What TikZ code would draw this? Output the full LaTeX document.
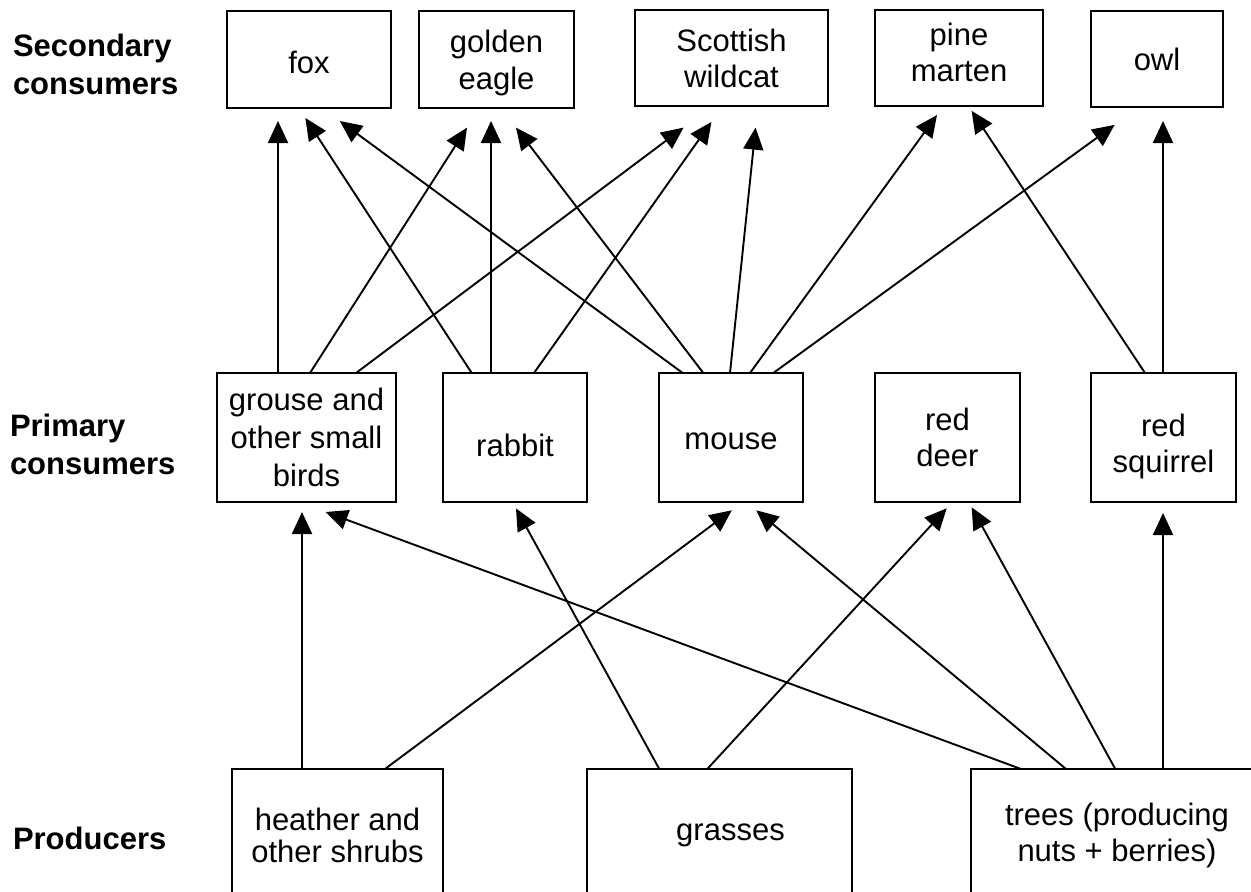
\documentclass[tikz,border=0pt]{standalone}
\usepackage{fontspec}
\setmainfont{Liberation Sans}
\usetikzlibrary{arrows.meta,calc}
\newcommand{\shiftedtext}[2]{\raisebox{#1}[\height][\depth]{\begin{tabular}{@{}c@{}}#2\end{tabular}}}
\begin{document}
\begin{tikzpicture}[x=1pt,y=-1pt,
  orgbox/.style={draw, line width=2pt, inner sep=0pt, outer sep=0pt, align=center,
    font=\fontsize{31}{36}\selectfont},
  lvl/.style={anchor=west, inner sep=0pt, outer sep=0pt, align=left,
    font=\bfseries\fontsize{31}{38}\selectfont},
  feeds/.style={line width=1.9pt, -{Triangle[length=22pt,width=20pt]}},
]
\useasboundingbox (0,0) rectangle (1251,892);
\fill[white] (0,0) rectangle (1251,892);
\clip (0,0) rectangle (1251,892);

% level labels
\node[lvl] (lsec) at (13,64) {Secondary\\consumers};
\node[lvl] (lpri) at (10,444) {Primary\\consumers};
\node[lvl] (lpro) at (13,838.5) {Producers};

% secondary consumers
\node[orgbox, minimum width=164pt, minimum height=97pt] (fox) at (309,59.5) {\shiftedtext{-7pt}{fox}};
\node[orgbox, minimum width=155pt, minimum height=97pt, font=\fontsize{31}{37}\selectfont] (eagle) at (496.5,59.5) {\shiftedtext{-4pt}{golden\\eagle}};
\node[orgbox, minimum width=193pt, minimum height=96pt] (wildcat) at (731.5,58) {Scottish\\wildcat};
\node[orgbox, minimum width=168pt, minimum height=96pt] (marten) at (959,58) {\shiftedtext{2pt}{pine\\marten}};
\node[orgbox, minimum width=132pt, minimum height=96pt] (owl) at (1157,59) {owl};

% primary consumers
\node[orgbox, minimum width=179pt, minimum height=129pt, font=\fontsize{31}{38}\selectfont] (grouse) at (306.5,437.5) {grouse and\\other small\\birds};
\node[orgbox, minimum width=144pt, minimum height=129pt] (rabbit) at (515,437.5) {\shiftedtext{-12pt}{rabbit}};
\node[orgbox, minimum width=144pt, minimum height=129pt] (mouse) at (731,437.5) {\shiftedtext{-5pt}{mouse}};
\node[orgbox, minimum width=145pt, minimum height=129pt] (deer) at (947.5,437.5) {red\\deer};
\node[orgbox, minimum width=145pt, minimum height=129pt] (squirrel) at (1163.5,437.5) {\shiftedtext{-10pt}{red\\squirrel}};

% producers
\node[orgbox, minimum width=211pt, minimum height=133pt, font=\fontsize{31}{32}\selectfont] (heather) at (337.5,835.5) {heather and\\other shrubs};
\node[orgbox, minimum width=265pt, minimum height=133pt] (grasses) at (719.5,835.5) {\hspace*{22pt}grasses};
\node[orgbox, minimum width=292pt, minimum height=133pt] (trees) at (1117,835.5) {trees (producing\\nuts + berries)};

% primary -> secondary
\draw[feeds] ($(grouse.north west)+(61,0)$) -- ($(fox.south west)+(51,13)$);
\draw[feeds] ($(grouse.north west)+(93,0)$) -- ($(eagle.south west)+(48,19.6)$);
\draw[feeds] ($(grouse.north west)+(139,0)$) -- ($(wildcat.south west)+(48.5,21.6)$);

\draw[feeds] ($(rabbit.north west)+(28.7,0)$) -- ($(fox.south west)+(78.4,10)$);
\draw[feeds] ($(rabbit.north west)+(48,0)$) -- ($(eagle.south west)+(72,13)$);
\draw[feeds] ($(rabbit.north west)+(91,0)$) -- ($(wildcat.south west)+(76.5,15.8)$);

\draw[feeds] ($(mouse.north west)+(23.7,0)$) -- ($(fox.south west)+(112.8,13)$);
\draw[feeds] ($(mouse.north west)+(44.3,0)$) -- ($(eagle.south west)+(97,19.6)$);
\draw[feeds] ($(mouse.north west)+(71,0)$) -- ($(wildcat.south west)+(120.6,21.6)$);
\draw[feeds] ($(mouse.north west)+(91,0)$) -- ($(marten.south west)+(62,9)$);
\draw[feeds] ($(mouse.north west)+(114.3,0)$) -- ($(owl.south west)+(23.6,17.9)$);

\draw[feeds] ($(squirrel.north west)+(54,0)$) -- ($(marten.south west)+(96.6,4.8)$);
\draw[feeds] ($(squirrel.north west)+(72,0)$) -- ($(owl.south west)+(72,14)$);

% producers -> primary
\draw[feeds] ($(heather.north west)+(70,0)$) -- ($(grouse.south west)+(85,10)$);
\draw[feeds] ($(heather.north west)+(153,0)$) -- ($(mouse.south west)+(72.8,8.3)$);

\draw[feeds] ($(grasses.north west)+(72.3,0)$) -- ($(rabbit.south west)+(73,6.4)$);
\draw[feeds] ($(grasses.north west)+(120.3,0)$) -- ($(deer.south west)+(71.7,6.3)$);

\draw[feeds] ($(trees.north west)+(50,0)$) -- ($(grouse.south west)+(108.7,10)$);
\draw[feeds] ($(trees.north west)+(95,0)$) -- ($(mouse.south west)+(97.3,8.3)$);
\draw[feeds] ($(trees.north west)+(144.3,0)$) -- ($(deer.south west)+(96.7,5.3)$);
\draw[feeds] ($(trees.north west)+(192,0)$) -- ($(squirrel.south west)+(72,11)$);
\end{tikzpicture}
\end{document}
